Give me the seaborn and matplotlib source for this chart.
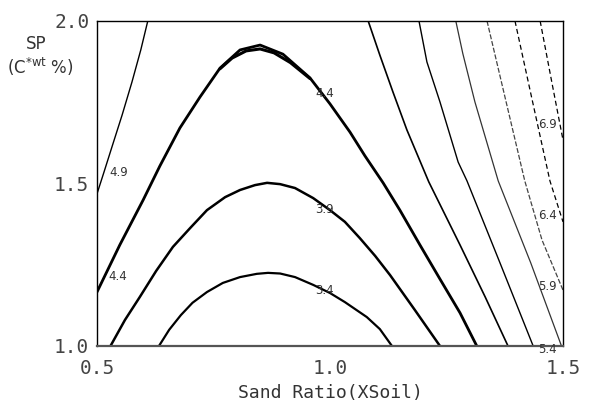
import matplotlib
matplotlib.use("Agg")
import matplotlib.pyplot as plt
import seaborn as sns

# ---- contour lines (Sand Ratio vs SP) ----
l49_x = [0.500, 0.515, 0.532, 0.554, 0.575, 0.594, 0.609]
l49_y = [1.468, 1.535, 1.612, 1.711, 1.812, 1.911, 2.000]

a44_x = [0.500, 0.549, 0.599, 0.635, 0.678, 0.721, 0.764, 0.807, 0.850, 0.899,
         0.957, 1.000, 1.043, 1.075, 1.114, 1.150, 1.193, 1.236, 1.279, 1.315]
a44_y = [1.166, 1.311, 1.449, 1.554, 1.671, 1.766, 1.855, 1.911, 1.926, 1.898,
         1.825, 1.745, 1.658, 1.585, 1.502, 1.418, 1.311, 1.206, 1.102, 1.000]

# second contour that runs almost on top of the 4.4 arch near its peak
a44b_x = [0.764, 0.790, 0.820, 0.850, 0.880, 0.915, 0.957]
a44b_y = [1.853, 1.886, 1.908, 1.914, 1.902, 1.872, 1.823]

a39_x = [0.529, 0.560, 0.592, 0.627, 0.663, 0.700, 0.736, 0.775, 0.807, 0.839,
         0.865, 0.893, 0.925, 0.964, 1.000, 1.032, 1.064, 1.097, 1.129, 1.182, 1.236]
a39_y = [1.000, 1.080, 1.151, 1.231, 1.305, 1.363, 1.418, 1.458, 1.480, 1.495,
         1.502, 1.498, 1.486, 1.455, 1.418, 1.382, 1.332, 1.277, 1.218, 1.111, 1.000]

a34_x = [0.633, 0.655, 0.680, 0.705, 0.736, 0.770, 0.807, 0.843, 0.867, 0.893,
         0.925, 0.964, 1.000, 1.032, 1.079, 1.107, 1.133]
a34_y = [1.000, 1.050, 1.095, 1.133, 1.166, 1.194, 1.212, 1.222, 1.225, 1.223,
         1.212, 1.188, 1.163, 1.135, 1.089, 1.052, 1.000]

r1_x = [1.082, 1.107, 1.135, 1.165, 1.212, 1.279, 1.333, 1.382]
r1_y = [2.000, 1.895, 1.782, 1.665, 1.505, 1.311, 1.151, 1.000]

r2_x = [1.191, 1.208, 1.236, 1.275, 1.294, 1.365, 1.436]
r2_y = [2.000, 1.874, 1.751, 1.566, 1.508, 1.255, 1.000]

r3_x = [1.270, 1.285, 1.311, 1.361, 1.431, 1.496]
r3_y = [2.000, 1.900, 1.751, 1.508, 1.255, 1.003]

r4_x = [1.337, 1.376, 1.418, 1.455, 1.500]
r4_y = [2.000, 1.763, 1.508, 1.326, 1.172]

r5_x = [1.397, 1.433, 1.472, 1.500]
r5_y = [2.000, 1.763, 1.508, 1.382]

r6_x = [1.451, 1.476, 1.500]
r6_y = [2.000, 1.812, 1.634]

# contour labels: text, x, y
lab_txt = ["4.9", "4.4", "4.4", "3.9", "3.4", "6.9", "6.4", "5.9", "5.4"]
lab_x = [0.547, 0.545, 0.989, 0.989, 0.989, 1.466, 1.466, 1.466, 1.466]
lab_y = [1.535, 1.215, 1.778, 1.420, 1.172, 1.680, 1.403, 1.182, 0.990]

xticks = [0.5, 0.8333, 1.0, 1.1667, 1.5]
xtick_labels = ["0.5", "", "1.0", "", "1.5"]
yticks = [1.0, 1.3333, 1.5, 1.6667, 2.0]
ytick_labels = ["1.0", "", "1.5", "", "2.0"]

sns.set_style("white")
plt.rcParams['font.family'] = ['DejaVu Sans']

fig = plt.figure(figsize=(5.91, 4.15), dpi=100)
ax = fig.add_axes([0.1641, 0.1663, 0.7885, 0.7831])

def draw(xs, ys, **kw):
    sns.lineplot(x=xs, y=ys, sort=False, estimator=None, ax=ax, legend=False, **kw)

draw(l49_x, l49_y, color="black", lw=1.0)
draw(a44_x, a44_y, color="black", lw=2.0)
draw(a44b_x, a44b_y, color="black", lw=2.2)
draw(a39_x, a39_y, color="black", lw=1.8)
draw(a34_x, a34_y, color="black", lw=1.6)
draw(r1_x, r1_y, color="black", lw=1.2)
draw(r2_x, r2_y, color="black", lw=1.0)
draw(r3_x, r3_y, color="#333333", lw=0.9)
draw(r4_x, r4_y, color="#444444", lw=0.9, linestyle=(0, (4, 1.5)))
draw(r5_x, r5_y, color="black", lw=0.9, linestyle=(0, (4, 2.5)))
draw(r6_x, r6_y, color="black", lw=0.9, linestyle=(0, (4, 2.5)))

for t, x, y in zip(lab_txt, lab_x, lab_y):
    ax.text(x, y, t, fontsize=8.5, color="#333333", ha="center", va="center",
            family="DejaVu Sans")

ax.set_xlim(0.5, 1.5)
ax.set_ylim(1.0, 2.0)
ax.set_xticks(xticks)
ax.set_xticklabels(xtick_labels, family="DejaVu Sans Mono", fontsize=14, color="#444444")
ax.set_yticks(yticks)
ax.set_yticklabels(ytick_labels, family="DejaVu Sans Mono", fontsize=14, color="#444444")
ax.tick_params(axis="both", direction="inout", length=7, width=1, color="black")
ax.tick_params(axis="x", pad=6)
ax.tick_params(axis="y", pad=2)

for s in ["left", "top", "right"]:
    ax.spines[s].set_color("black")
    ax.spines[s].set_linewidth(1.0)
ax.spines["bottom"].set_color("#555555")
ax.spines["bottom"].set_linewidth(1.6)

ax.set_xlabel("Sand Ratio(XSoil)", family="DejaVu Sans Mono", fontsize=13,
              color="#333333", labelpad=4)
ax.set_ylabel("")

fig.text(36 / 591, 1 - 44 / 415, "SP", fontsize=12, ha="center", va="center",
         color="#333333")
fig.text(40 / 591, 1 - 67 / 415, r"(C$^{\mathrm{*wt}}$ %)", fontsize=12,
         ha="center", va="center", color="#333333")

fig.savefig("out.png", dpi=100, facecolor="white")
